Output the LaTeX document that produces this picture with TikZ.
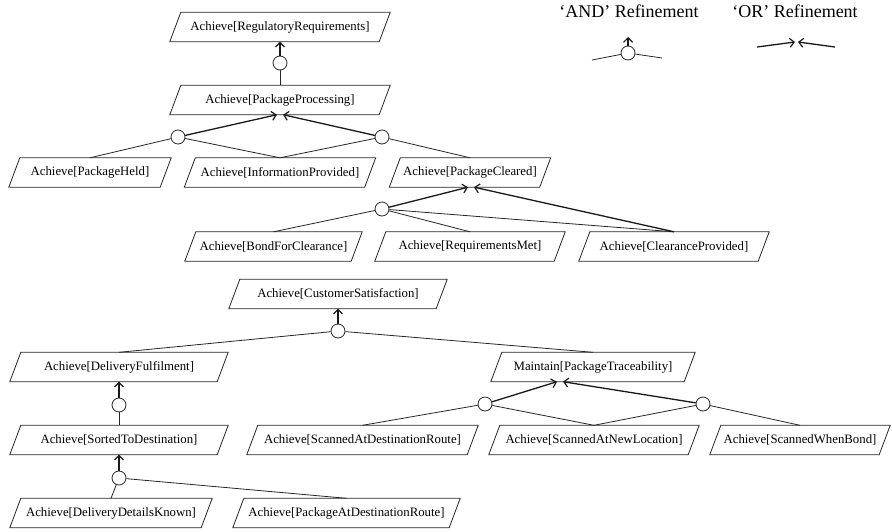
\documentclass[tikz,border=0pt]{standalone}
\usepackage{fontspec}
\setmainfont{Liberation Serif}
\usetikzlibrary{arrows.meta}
\tikzset{
  goal/.style={rectangle, inner sep=0pt, minimum height=29pt, font=\fontsize{12.8}{15}\selectfont},
  boxline/.style={draw=black!85, line width=0.8pt},
  refc/.style={circle, draw=black!85, line width=0.8pt, fill=white, minimum size=14pt, inner sep=0pt},
  thin/.style={draw=black!85, line width=0.8pt},
  andarrow/.style={draw=black!90, line width=1.1pt, -{Straight Barb[length=4.5pt,width=9pt,line width=1.1pt]}},
  orarrow/.style={draw=black!90, line width=1.3pt, -{Straight Barb[length=4.5pt,width=9pt,line width=1.2pt]}},
  legend/.style={font=\fontsize{18}{21}\selectfont, anchor=base, inner sep=0pt}
}
\newcommand\goalbox[4]{%
  \node[goal, minimum width=#3pt-11pt] (#1) at (#2) {#4};
  \draw[boxline] ([xshift=5.5pt]#1.north west) -- ([xshift=5.5pt]#1.north east)
    -- ([xshift=-5.5pt]#1.south east) -- ([xshift=-5.5pt]#1.south west) -- cycle;
}
\begin{document}
\begin{tikzpicture}[x=1pt, y=-1pt]
\useasboundingbox (0,0) rectangle (892,531);

% ---------- legend ----------
\node[legend] (andlbl) at (629,17) {‘AND’ Refinement};
\node[legend] (orlbl) at (795,17) {‘OR’ Refinement};
\node[refc] (andc) at (628,53) {};
\coordinate (andl) at (592,60);
\coordinate (andr) at (662,58);
\coordinate (andt) at (628,37);
\draw[thin] (andl) -- (andc);
\draw[thin] (andc) -- (andr);
\draw[andarrow] (andc) -- (andt);
\coordinate (orl) at (757,47);
\coordinate (ortl) at (795,42);
\coordinate (orr) at (835,47);
\coordinate (ortr) at (798,42);
\draw[orarrow] (orl) -- (ortl);
\draw[orarrow] (orr) -- (ortr);

% ---------- upper tree ----------
\goalbox{RR}{280,27}{220}{Achieve[RegulatoryRequirements]}
\goalbox{PP}{280,100}{220}{Achieve[PackageProcessing]}
\goalbox{PH}{90,172.5}{162}{Achieve[PackageHeld]}
\goalbox{IP}{280,172.5}{191}{Achieve[InformationProvided]}
\goalbox{PC}{470,172.5}{161}{Achieve[PackageCleared]}
\goalbox{BFC}{273.5,246.5}{177}{Achieve[BondForClearance]}
\goalbox{RM}{470,246.5}{190}{Achieve[RequirementsMet]}
\goalbox{CP}{674,246.5}{190}{Achieve[ClearanceProvided]}

\node[refc] (c0) at (280,63) {};
\node[refc] (cL) at (178,137) {};
\node[refc] (cR) at (382,137) {};
\node[refc] (cPC) at (382,209) {};

\draw[thin] (c0) -- (PP.north);
\draw[andarrow] (c0) -- (RR.south);
\draw[thin] (cL) -- (PH.north);
\draw[thin] (cL) -- (IP.north);
\draw[thin] (cR) -- (IP.north);
\draw[thin] (cR) -- (PC.north);
\draw[orarrow] (cL) -- ([xshift=-3pt]PP.south);
\draw[orarrow] (cR) -- ([xshift=3pt]PP.south);
\draw[thin] (cPC) -- (BFC.north);
\draw[thin] (cPC) -- (RM.north);
\draw[thin] (cPC) -- (CP.north);
\draw[orarrow] (cPC) -- ([xshift=-2pt]PC.south);
\draw[orarrow] (CP.north) -- ([xshift=4pt]PC.south);

% ---------- lower tree ----------
\goalbox{CS}{338,294}{218}{Achieve[CustomerSatisfaction]}
\goalbox{DF}{119,367}{218}{Achieve[DeliveryFulfilment]}
\goalbox{MPT}{593,367}{204}{Maintain[PackageTraceability]}
\goalbox{STD}{119,440}{218}{Achieve[SortedToDestination]}
\goalbox{SADR}{362.5,440}{231}{Achieve[ScannedAtDestinationRoute]}
\goalbox{SANL}{594,440}{210}{Achieve[ScannedAtNewLocation]}
\goalbox{SWB}{800,440}{180}{Achieve[ScannedWhenBond]}
\goalbox{DDK}{111,513}{202}{Achieve[DeliveryDetailsKnown]}
\goalbox{PADR}{346.5,513}{227}{Achieve[PackageAtDestinationRoute]}

\node[refc] (cCS) at (338,331) {};
\node[refc] (cDF) at (119,405) {};
\node[refc] (cSTD) at (119,478) {};
\node[refc] (cML) at (485,404) {};
\node[refc] (cMR) at (703,404) {};

\draw[andarrow] (cCS) -- (CS.south);
\draw[thin] (cCS) -- (DF.north);
\draw[thin] (cCS) -- (MPT.north);
\draw[andarrow] (cDF) -- (DF.south);
\draw[thin] (cDF) -- (STD.north);
\draw[andarrow] (cSTD) -- (STD.south);
\draw[thin] (cSTD) -- (DDK.north);
\draw[thin] (cSTD) -- (PADR.north);
\draw[thin] (cML) -- (SADR.north);
\draw[thin] (cML) -- (SANL.north);
\draw[thin] (cMR) -- (SANL.north);
\draw[thin] (cMR) -- (SWB.north);
\draw[orarrow] (cML) -- ([xshift=-36pt]MPT.south);
\draw[orarrow] (cMR) -- ([xshift=-30pt]MPT.south);
\end{tikzpicture}
\end{document}
